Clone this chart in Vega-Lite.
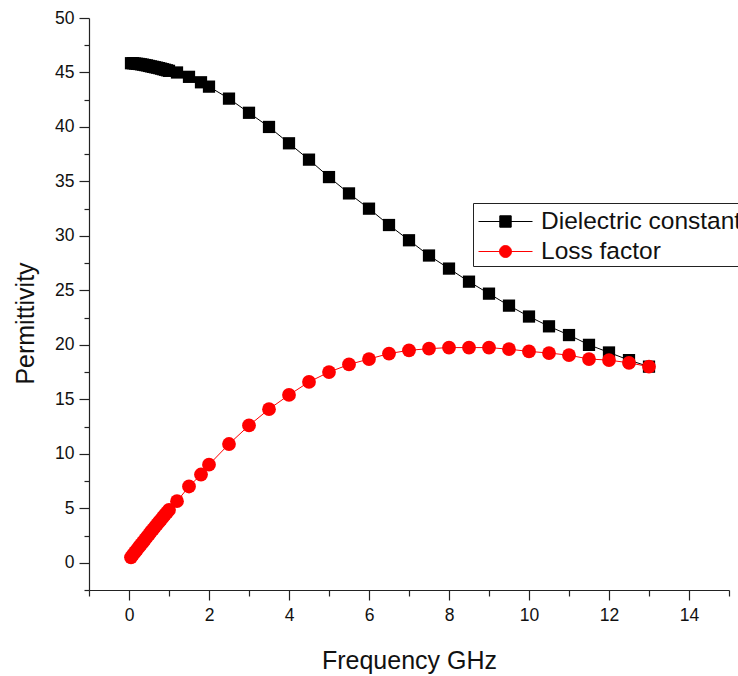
{
  "$schema": "https://vega.github.io/schema/vega-lite/v6.json",
  "autosize": "none",
  "width": 640,
  "height": 572,
  "padding": {"left": 89, "top": 18, "right": 9, "bottom": 86},
  "background": "white",
  "config": {
    "view": {"stroke": null},
    "font": "Liberation Sans",
    "axis": {"grid": false, "domainColor": "#222", "tickColor": "#222", "labelColor": "#111", "titleColor": "#111", "labelFont": "Liberation Sans", "titleFont": "Liberation Sans", "titleFontWeight": "normal", "domainWidth": 1.2, "tickWidth": 1.2}
  },
  "data": {"values": [
    {"f": 0.05, "v": 45.85, "s": "Dielectric constant"},
    {"f": 0.1, "v": 45.85, "s": "Dielectric constant"},
    {"f": 0.15, "v": 45.82, "s": "Dielectric constant"},
    {"f": 0.2, "v": 45.8, "s": "Dielectric constant"},
    {"f": 0.25, "v": 45.78, "s": "Dielectric constant"},
    {"f": 0.3, "v": 45.75, "s": "Dielectric constant"},
    {"f": 0.35, "v": 45.72, "s": "Dielectric constant"},
    {"f": 0.4, "v": 45.68, "s": "Dielectric constant"},
    {"f": 0.45, "v": 45.65, "s": "Dielectric constant"},
    {"f": 0.5, "v": 45.6, "s": "Dielectric constant"},
    {"f": 0.55, "v": 45.56, "s": "Dielectric constant"},
    {"f": 0.6, "v": 45.52, "s": "Dielectric constant"},
    {"f": 0.65, "v": 45.48, "s": "Dielectric constant"},
    {"f": 0.7, "v": 45.44, "s": "Dielectric constant"},
    {"f": 0.75, "v": 45.4, "s": "Dielectric constant"},
    {"f": 0.8, "v": 45.35, "s": "Dielectric constant"},
    {"f": 0.85, "v": 45.3, "s": "Dielectric constant"},
    {"f": 0.9, "v": 45.25, "s": "Dielectric constant"},
    {"f": 0.95, "v": 45.2, "s": "Dielectric constant"},
    {"f": 1.0, "v": 45.15, "s": "Dielectric constant"},
    {"f": 1.2, "v": 45.0, "s": "Dielectric constant"},
    {"f": 1.5, "v": 44.6, "s": "Dielectric constant"},
    {"f": 1.8, "v": 44.1, "s": "Dielectric constant"},
    {"f": 2.0, "v": 43.7, "s": "Dielectric constant"},
    {"f": 2.5, "v": 42.6, "s": "Dielectric constant"},
    {"f": 3.0, "v": 41.3, "s": "Dielectric constant"},
    {"f": 3.5, "v": 40.0, "s": "Dielectric constant"},
    {"f": 4.0, "v": 38.5, "s": "Dielectric constant"},
    {"f": 4.5, "v": 37.0, "s": "Dielectric constant"},
    {"f": 5.0, "v": 35.4, "s": "Dielectric constant"},
    {"f": 5.5, "v": 33.9, "s": "Dielectric constant"},
    {"f": 6.0, "v": 32.5, "s": "Dielectric constant"},
    {"f": 6.5, "v": 31.0, "s": "Dielectric constant"},
    {"f": 7.0, "v": 29.6, "s": "Dielectric constant"},
    {"f": 7.5, "v": 28.2, "s": "Dielectric constant"},
    {"f": 8.0, "v": 27.0, "s": "Dielectric constant"},
    {"f": 8.5, "v": 25.8, "s": "Dielectric constant"},
    {"f": 9.0, "v": 24.7, "s": "Dielectric constant"},
    {"f": 9.5, "v": 23.6, "s": "Dielectric constant"},
    {"f": 10.0, "v": 22.6, "s": "Dielectric constant"},
    {"f": 10.5, "v": 21.7, "s": "Dielectric constant"},
    {"f": 11.0, "v": 20.9, "s": "Dielectric constant"},
    {"f": 11.5, "v": 20.0, "s": "Dielectric constant"},
    {"f": 12.0, "v": 19.3, "s": "Dielectric constant"},
    {"f": 12.5, "v": 18.6, "s": "Dielectric constant"},
    {"f": 13.0, "v": 18.0, "s": "Dielectric constant"},
    {"f": 0.05, "v": 0.5, "s": "Loss factor"},
    {"f": 0.1, "v": 0.75, "s": "Loss factor"},
    {"f": 0.15, "v": 0.98, "s": "Loss factor"},
    {"f": 0.2, "v": 1.2, "s": "Loss factor"},
    {"f": 0.25, "v": 1.45, "s": "Loss factor"},
    {"f": 0.3, "v": 1.68, "s": "Loss factor"},
    {"f": 0.35, "v": 1.9, "s": "Loss factor"},
    {"f": 0.4, "v": 2.15, "s": "Loss factor"},
    {"f": 0.45, "v": 2.38, "s": "Loss factor"},
    {"f": 0.5, "v": 2.6, "s": "Loss factor"},
    {"f": 0.55, "v": 2.85, "s": "Loss factor"},
    {"f": 0.6, "v": 3.07, "s": "Loss factor"},
    {"f": 0.65, "v": 3.3, "s": "Loss factor"},
    {"f": 0.7, "v": 3.52, "s": "Loss factor"},
    {"f": 0.75, "v": 3.75, "s": "Loss factor"},
    {"f": 0.8, "v": 3.97, "s": "Loss factor"},
    {"f": 0.85, "v": 4.2, "s": "Loss factor"},
    {"f": 0.9, "v": 4.42, "s": "Loss factor"},
    {"f": 0.95, "v": 4.62, "s": "Loss factor"},
    {"f": 1.0, "v": 4.85, "s": "Loss factor"},
    {"f": 1.2, "v": 5.65, "s": "Loss factor"},
    {"f": 1.5, "v": 7.0, "s": "Loss factor"},
    {"f": 1.8, "v": 8.1, "s": "Loss factor"},
    {"f": 2.0, "v": 9.0, "s": "Loss factor"},
    {"f": 2.5, "v": 10.9, "s": "Loss factor"},
    {"f": 3.0, "v": 12.6, "s": "Loss factor"},
    {"f": 3.5, "v": 14.1, "s": "Loss factor"},
    {"f": 4.0, "v": 15.4, "s": "Loss factor"},
    {"f": 4.5, "v": 16.6, "s": "Loss factor"},
    {"f": 5.0, "v": 17.5, "s": "Loss factor"},
    {"f": 5.5, "v": 18.2, "s": "Loss factor"},
    {"f": 6.0, "v": 18.7, "s": "Loss factor"},
    {"f": 6.5, "v": 19.2, "s": "Loss factor"},
    {"f": 7.0, "v": 19.5, "s": "Loss factor"},
    {"f": 7.5, "v": 19.65, "s": "Loss factor"},
    {"f": 8.0, "v": 19.75, "s": "Loss factor"},
    {"f": 8.5, "v": 19.75, "s": "Loss factor"},
    {"f": 9.0, "v": 19.75, "s": "Loss factor"},
    {"f": 9.5, "v": 19.6, "s": "Loss factor"},
    {"f": 10.0, "v": 19.4, "s": "Loss factor"},
    {"f": 10.5, "v": 19.25, "s": "Loss factor"},
    {"f": 11.0, "v": 19.05, "s": "Loss factor"},
    {"f": 11.5, "v": 18.7, "s": "Loss factor"},
    {"f": 12.0, "v": 18.6, "s": "Loss factor"},
    {"f": 12.5, "v": 18.35, "s": "Loss factor"},
    {"f": 13.0, "v": 18.0, "s": "Loss factor"}
  ]},
  "resolve": {"axis": {"x": "independent", "y": "independent"}},
  "layer": [
    {
      "mark": {"type": "line", "strokeWidth": 1},
      "encoding": {
        "x": {"field": "f", "type": "quantitative", "scale": {"domain": [-1, 15], "nice": false, "zero": false},
          "axis": {"orient": "bottom", "values": [0, 2, 4, 6, 8, 10, 12, 14], "format": "d", "tickSize": 10, "labelFontSize": 17.5, "labelPadding": 6,
            "title": "Frequency GHz", "titleFontSize": 25, "titleX": 320, "titleY": 70, "titleBaseline": "middle", "titleAlign": "center"}},
        "y": {"field": "v", "type": "quantitative", "scale": {"domain": [-2.5, 50], "nice": false, "zero": false},
          "axis": {"orient": "left", "values": [0, 5, 10, 15, 20, 25, 30, 35, 40, 45, 50], "format": "d", "tickSize": 10, "labelFontSize": 17.5, "labelPadding": 5,
            "title": "Permittivity", "titleFontSize": 25, "titleX": -64, "titleY": 305, "titleAngle": -90, "titleBaseline": "middle", "titleAlign": "center"}},
        "color": {"field": "s", "type": "nominal",
          "scale": {"domain": ["Dielectric constant", "Loss factor"], "range": ["black", "red"]},
          "legend": {
            "title": null, "orient": "none", "legendX": 384, "legendY": 185,
            "strokeColor": "#222", "padding": 3, "symbolSize": 900, "symbolOffset": 14,
            "labelFontSize": 24.5, "labelColor": "#111", "labelOffset": 20, "labelLimit": 0, "rowPadding": 3,
            "symbolType": "M-1.8,0H1.8",
            "encode": {"symbols": {"update": {
              "shape": {"signal": "datum.value === 'Loss factor' ? 'M-1.8,0H1.8M-0.4,0A0.4,0.4 0 1,0 0.4,0A0.4,0.4 0 1,0 -0.4,0Z' : 'M-1.8,0H1.8M-0.38,-0.38H0.38V0.38H-0.38Z'"},
              "fill": {"signal": "datum.value === 'Loss factor' ? 'red' : 'black'"},
              "stroke": {"signal": "datum.value === 'Loss factor' ? 'red' : 'black'"},
              "strokeWidth": {"value": 1},
              "opacity": {"value": 1},
              "fillOpacity": {"value": 1}
            }}}
          }}
      }
    },
    {
      "transform": [{"filter": "datum.s === 'Dielectric constant'"}],
      "mark": {"type": "point", "filled": true, "opacity": 1, "shape": "square", "size": 150, "color": "black"},
      "encoding": {
        "x": {"field": "f", "type": "quantitative",
          "axis": {"orient": "bottom", "values": [-1, 1, 3, 5, 7, 9, 11, 13, 15], "tickSize": 6, "labels": false, "domain": false, "title": null}},
        "y": {"field": "v", "type": "quantitative",
          "axis": {"orient": "left", "values": [-2.5, 2.5, 7.5, 12.5, 17.5, 22.5, 27.5, 32.5, 37.5, 42.5, 47.5], "tickSize": 5, "labels": false, "domain": false, "title": null}}
      }
    },
    {
      "transform": [{"filter": "datum.s === 'Loss factor'"}],
      "mark": {"type": "point", "filled": true, "opacity": 1, "shape": "circle", "size": 190, "color": "red"},
      "encoding": {
        "x": {"field": "f", "type": "quantitative", "axis": null},
        "y": {"field": "v", "type": "quantitative", "axis": null}
      }
    }
  ]
}
